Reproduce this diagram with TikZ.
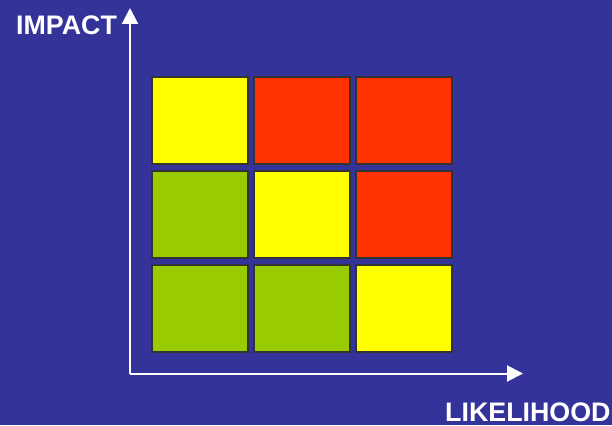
\documentclass[tikz,border=0pt]{standalone}
\usepackage{fontspec}
\setmainfont{Liberation Sans}
\usetikzlibrary{arrows.meta}
\definecolor{bgblue}{RGB}{51,51,153}
\definecolor{cyel}{RGB}{255,255,0}
\definecolor{cred}{RGB}{255,51,0}
\definecolor{cgrn}{RGB}{153,204,0}
\definecolor{cedge}{RGB}{51,51,51}
\tikzset{
  cell/.style={draw=cedge, line width=2pt, minimum width=96pt, minimum height=87pt, inner sep=0pt, anchor=center},
  axis/.style={draw=white, line width=2pt, -{Triangle[width=16pt,length=16pt]}},
  axlabel/.style={text=white, font=\fontsize{26.8}{30}\selectfont\bfseries, inner sep=0pt, anchor=base west}
}
\begin{document}
\begin{tikzpicture}[x=1pt,y=-1pt]
\useasboundingbox (0,0) rectangle (612,425);
\fill[bgblue] (0,0) rectangle (612,425);
% row 1
\node[cell, fill=cyel] (c11) at (200,120.5) {};
\node[cell, fill=cred] (c12) at (302,120.5) {};
\node[cell, fill=cred] (c13) at (404,120.5) {};
% row 2
\node[cell, fill=cgrn] (c21) at (200,214.5) {};
\node[cell, fill=cyel] (c22) at (302,214.5) {};
\node[cell, fill=cred] (c23) at (404,214.5) {};
% row 3
\node[cell, fill=cgrn] (c31) at (200,308.5) {};
\node[cell, fill=cgrn] (c32) at (302,308.5) {};
\node[cell, fill=cyel] (c33) at (404,308.5) {};
% axes
\coordinate (origin) at (130,373.5);
\coordinate (ytip) at (130,8);
\coordinate (xtip) at (523,373.5);
\draw[axis] (origin) -- (ytip);
\draw[axis] (origin) -- (xtip);
\node[axlabel] (ylab) at (16,35) {IMPACT};
\node[axlabel] (xlab) at (445,421.5) {LIKELIHOOD};
\end{tikzpicture}
\end{document}
